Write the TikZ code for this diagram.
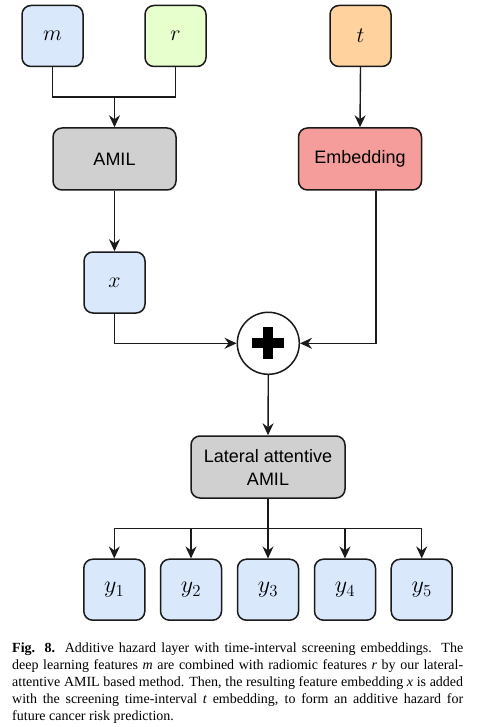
\RequirePackage{fix-cm}
\documentclass[tikz,border=0pt]{standalone}
\usepackage{fontspec}
\setmainfont{Liberation Serif}
\newfontfamily\boxfont{Liberation Sans}
\usetikzlibrary{arrows.meta,calc}
\definecolor{cblue}{HTML}{DAE8FC}
\definecolor{cgreen}{HTML}{E6FFCC}
\definecolor{corange}{HTML}{FFD29E}
\definecolor{cred}{HTML}{F49D9A}
\definecolor{cgray}{HTML}{D0D0D0}
\definecolor{cline}{HTML}{1A1A1A}
\begin{document}
\begin{tikzpicture}[x=1pt,y=-1pt,
  boxstyle/.style={draw=cline,line width=1.5pt,rounded corners=9pt,inner sep=0pt,align=center},
  sqbox/.style={boxstyle,minimum width=61pt,minimum height=61pt,font=\fontsize{22}{24}\selectfont},
  ybox/.style={boxstyle,fill=cblue,minimum width=61pt,minimum height=61pt,font=\fontsize{24}{28}\selectfont},
  widebox/.style={boxstyle,minimum width=123pt,minimum height=62pt,font=\boxfont\fontsize{18}{23}\selectfont},
  conn/.style={draw=cline,line width=1.4pt},
  arr/.style={conn,-{Stealth[length=12pt,width=11pt,inset=4pt]}}
]
\useasboundingbox[fill=white] (0,0) rectangle (488,727);

% top inputs
\node[sqbox,fill=cblue]   (m) at (52.5,36) {$m$};
\node[sqbox,fill=cgreen]  (r) at (175.5,36) {$r$};
\node[sqbox,fill=corange] (t) at (360.5,36) {$t$};

\node[widebox,fill=cgray] (amil) at (114.5,159) {AMIL};
\node[widebox,fill=cred]  (emb)  at (360,159) {Embedding};

\node[sqbox,fill=cblue] (x) at (114.5,282.5) {$x$};

\node[circle,draw=cline,line width=1.5pt,fill=white,minimum size=62pt,inner sep=0pt] (plus) at (268.3,343.3) {};
\fill[black] ($(plus.center)+(-16,-5)$) rectangle ($(plus.center)+(16,5)$);
\fill[black] ($(plus.center)+(-5,-16)$) rectangle ($(plus.center)+(5,16)$);

\node[widebox,fill=cgray,minimum width=154pt] (lat) at (268,467) {Lateral attentive\\AMIL};

\node[ybox] (y1) at (114.3,589.7) {$y_1$};
\node[ybox] (y2) at (191,589.7) {$y_2$};
\node[ybox] (y3) at (268,589.7) {$y_3$};
\node[ybox] (y4) at (345,589.7) {$y_4$};
\node[ybox] (y5) at (421.7,589.7) {$y_5$};

% connectors
\coordinate (merge) at (114.5,97);
\draw[conn] (m.south) |- (merge) -| (r.south);
\draw[arr] (merge) -- (amil.north);
\draw[arr] (t.south) -- (emb.north);
\draw[arr] (amil.south) -- (x.north);
\draw[arr] (x.south) |- (plus.west);
\draw[arr] ([xshift=16pt]emb.south) |- (plus.east);
\draw[arr] (plus.south) -- (lat.north);
\coordinate (split) at (268,528.3);
\draw[conn] (lat.south) -- (split);
\draw[arr] (split) -| (y1.north);
\draw[arr] (split) -| (y2.north);
\draw[arr] (split) -- (y3.north);
\draw[arr] (split) -| (y4.north);
\draw[arr] (split) -| (y5.north);

% caption
\node[anchor=base west,inner sep=0pt,text=black] (cap) at (12,652) {\parbox[t]{451pt}{\fontsize{14}{17}\selectfont\hyphenpenalty=10000\exhyphenpenalty=10000\emergencystretch=3em\spaceskip=0.25em plus 0.4em minus 0.1em
\textbf{Fig. 8.} Additive hazard layer with time-interval screening embeddings. The\linebreak
deep learning features \textit{m} are combined with radiomic features \textit{r} by our lateral-\linebreak
attentive AMIL based method. Then, the resulting feature embedding \textit{x} is added\linebreak
with the screening time-interval \textit{t} embedding, to form an additive hazard for\linebreak
future cancer risk prediction.}};
\end{tikzpicture}
\end{document}
